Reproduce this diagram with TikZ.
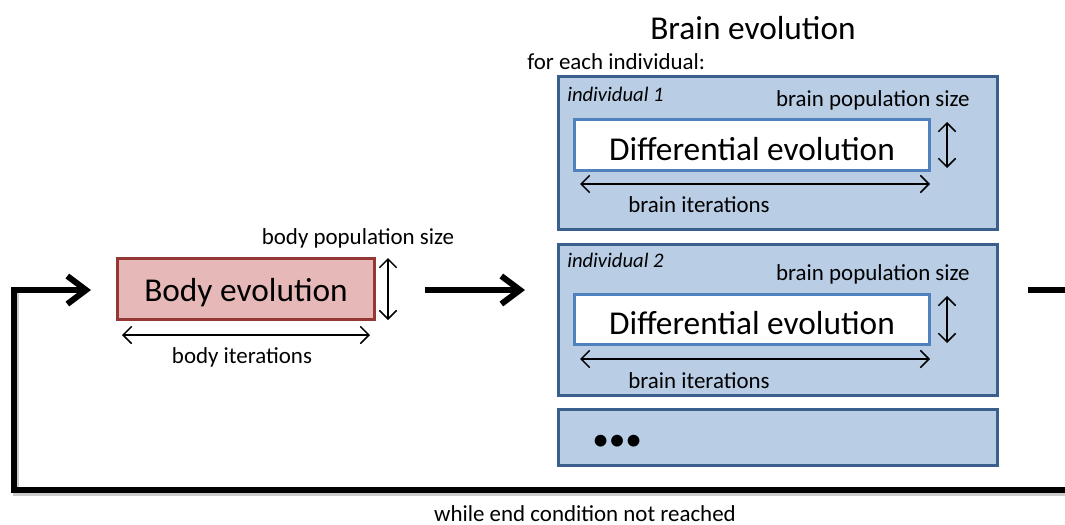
\documentclass[tikz,border=0pt]{standalone}
\usepackage{fontspec}
\setmainfont{Carlito}
\usetikzlibrary{arrows.meta}
\definecolor{bfill}{HTML}{B9CDE5}
\definecolor{bedge}{HTML}{3B5F8C}
\definecolor{iedge}{HTML}{4F81BD}
\definecolor{rfill}{HTML}{E6B9B8}
\definecolor{redge}{HTML}{953735}
\newcommand{\bigfont}{\fontsize{25}{30}\selectfont}
\newcommand{\smallfont}{\fontsize{17.2}{20}\selectfont}
\newcommand{\italfont}{\fontsize{15.5}{18}\selectfont\itshape}
\newcommand{\droptext}[2]{\raisebox{-#1}[\height][\depth]{#2}}
\tikzset{
  indbox/.style={draw=bedge, fill=bfill, line width=2.25pt, inner sep=0pt, minimum width=329.25pt},
  debox/.style={draw=iedge, fill=white, line width=2.25pt, inner sep=0pt, minimum width=266.25pt, font=\bigfont},
  bodybox/.style={draw=redge, fill=rfill, line width=2.25pt, inner sep=0pt, minimum width=192.75pt, minimum height=45.75pt, font=\bigfont},
  lbl/.style={inner sep=0pt, font=\smallfont},
  ital/.style={inner sep=0pt, font=\italfont},
  dimarrow/.style={line width=1.1pt, {Straight Barb[length=6.5pt,width=13pt]}-{Straight Barb[length=6.5pt,width=13pt]}},
  bigarrow/.style={line width=4.5pt, -{Straight Barb[length=14pt,width=21pt]}},
  bigline/.style={line width=4.5pt, line join=miter},
  shadowline/.style={line width=4.5pt, line join=miter, draw=black!35, opacity=0.6}
}
\begin{document}
\begin{tikzpicture}[x=0.75pt,y=-0.75pt]
\useasboundingbox (0,0) rectangle (1065,525);

% title
\node[inner sep=0pt, font=\bigfont] (title) at (753,28) {Brain evolution};
\node[lbl, anchor=west] (foreach) at (527,62) {for each individual:};

% individual 1
\node[indbox, minimum height=114.75pt] (ind1) at (778,153) {};
\node[ital, anchor=west] (ind1lbl) at (567,94) {individual 1};
\node[lbl, anchor=east] (bps1) at (970,100) {brain population size};
\node[debox, minimum height=38.25pt] (de1) at (752,145) {\droptext{3pt}{Differential evolution}};
\coordinate (v1a) at (947,122); \coordinate (v1b) at (947,168);
\draw[dimarrow] (v1a) -- (v1b);
\coordinate (h1a) at (580,184); \coordinate (h1b) at (930,184);
\draw[dimarrow] (h1a) -- (h1b);
\node[lbl] (bi1) at (699,205) {brain iterations};

% individual 2
\node[indbox, minimum height=113.25pt] (ind2) at (778,320) {};
\node[ital, anchor=west] (ind2lbl) at (567,260) {individual 2};
\node[lbl, anchor=east] (bps2) at (970,274) {brain population size};
\node[debox, minimum height=37.5pt] (de2) at (752,319.5) {\droptext{3pt}{Differential evolution}};
\coordinate (v2a) at (947,296); \coordinate (v2b) at (947,343);
\draw[dimarrow] (v2a) -- (v2b);
\coordinate (h2a) at (580,359); \coordinate (h2b) at (930,359);
\draw[dimarrow] (h2a) -- (h2b);
\node[lbl] (bi2) at (699,381) {brain iterations};

% individual ...
\node[indbox, minimum height=42pt] (ind3) at (778,437.5) {};
\node[inner sep=0pt, font=\bigfont, anchor=west] (dots) at (592,443) {\textbullet\textbullet\textbullet};

% body evolution
\node[bodybox] (body) at (246,289) {\droptext{2.5pt}{Body evolution}};
\node[lbl] (bps) at (358,238) {body population size};
\coordinate (bva) at (388,258); \coordinate (bvb) at (388,320);
\draw[dimarrow] (bva) -- (bvb);
\coordinate (bha) at (122,335); \coordinate (bhb) at (370,335);
\draw[dimarrow] (bha) -- (bhb);
\node[lbl] (bit) at (242,357) {body iterations};

% main arrows
\coordinate (a1) at (425,290); \coordinate (a2) at (525,290);
\draw[bigarrow] (a1) -- (a2);
\coordinate (r1) at (1028,290); \coordinate (r2) at (1066,290);
\draw[bigline] (r1) -- (r2);

\coordinate (l0) at (1068,490); \coordinate (l1) at (14,490); \coordinate (l2) at (14,290); \coordinate (l3) at (91,290);
\draw[shadowline] ([xshift=1.5pt,yshift=-2pt]l0) -- ([xshift=1.5pt,yshift=-2pt]l1) -- ([xshift=1.5pt,yshift=-2pt]l2);
\draw[bigline, -{Straight Barb[length=14pt,width=21pt]}] (l0) -- (l1) -- (l2) -- (l3);
\node[lbl, anchor=base] (cond) at (585,521) {while end condition not reached};
\end{tikzpicture}
\end{document}
